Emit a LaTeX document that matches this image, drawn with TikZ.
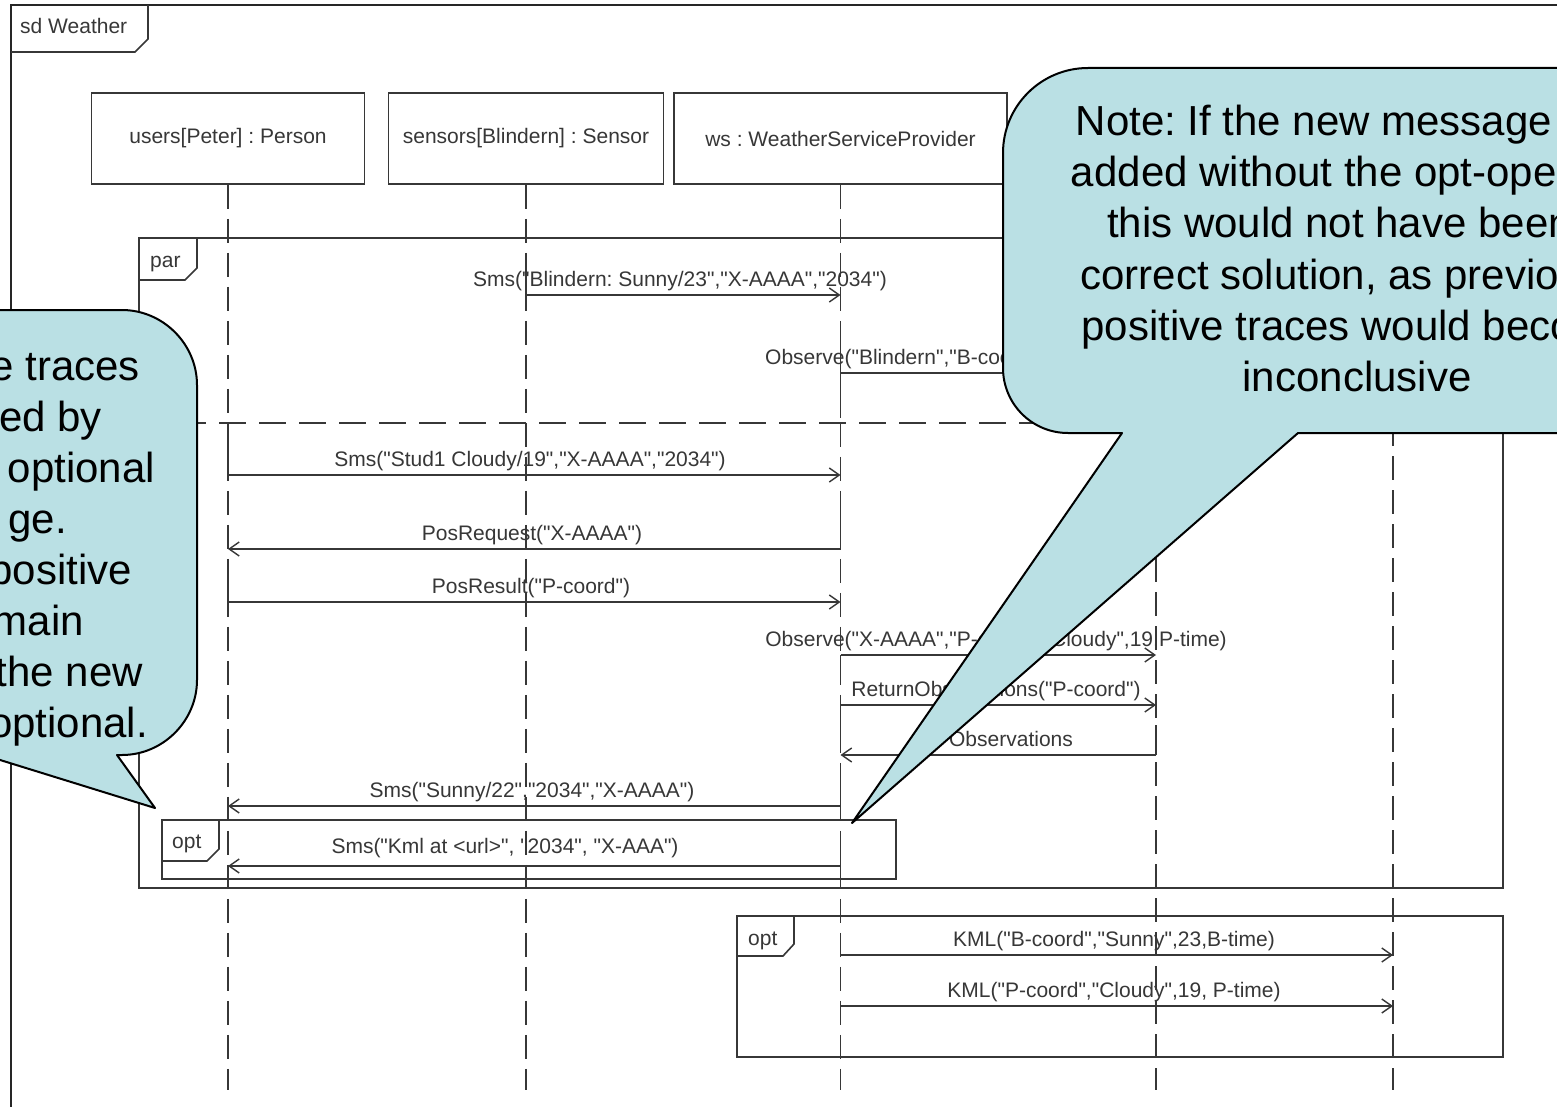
\documentclass[tikz,border=0pt]{standalone}
\usepackage{fontspec}
\setmainfont{Liberation Sans}[Ligatures=TeXOff]
\usetikzlibrary{arrows.meta,calc}
\definecolor{ink}{RGB}{55,55,55}
\definecolor{calloutfill}{RGB}{186,224,228}
\newcommand\diagfont{\fontsize{21}{25}\selectfont}
\newcommand\calloutfont{\fontsize{42}{51}\selectfont}
\frenchspacing

\begin{document}
\begin{tikzpicture}[x=1pt,y=-1pt,
  frame/.style={draw=ink, line width=1.6pt},
  head/.style={draw=ink, line width=1.6pt, minimum height=91pt, inner sep=0pt, font=\diagfont, text=ink},
  lifeline/.style={draw=ink, line width=1.6pt, dash pattern=on 24pt off 10pt},
  active/.style={draw=ink, line width=1.6pt},
  msg/.style={draw=ink, line width=1.6pt, -{Straight Barb[length=10pt,width=14pt,line width=1.4pt]}},
  lbl/.style={font=\diagfont, text=ink, inner sep=0pt, anchor=base},
  divider/.style={draw=ink, line width=1.6pt, dash pattern=on 27pt off 13pt},
  callout/.style={draw=black, line width=2pt, fill=calloutfill, line join=round},
  note/.style={font=\calloutfont, text=black, inner sep=0pt, anchor=base},
]
\useasboundingbox (0,0) rectangle (1557,1107);
\fill[white] (0,0) rectangle (1557,1107);

% outer interaction frame
\draw[line width=2.6pt, draw=black!85] (1600,5) -- (11,5) -- (11,1150);
\draw[frame] (11,52) -- (135,52) -- (148,39) -- (148,5);
\node[lbl, anchor=base west] (sdname) at (20,34) {sd Weather};

% lifeline heads
\node[head, minimum width=273pt] (users) at (228,138.5) {users[Peter] : Person};
\node[head, minimum width=275pt] (sensors) at (526,138.5) {sensors[Blindern] : Sensor};
\node[head, minimum width=333pt] (ws) at (840.5,138.5) {ws : WeatherServiceProvider};
\coordinate (obs) at (1156,184);
\coordinate (kml) at (1393,184);

% lifelines
\draw[lifeline] (users.south) -- (users.south |- 0,1090);
\draw[lifeline] (sensors.south) -- (sensors.south |- 0,1090);
\draw[lifeline] (ws.south) -- (ws.south |- 0,1090);
\draw[lifeline] (obs) -- (obs |- 0,1090);
\draw[lifeline] (kml) -- (kml |- 0,1090);

% solid stretches at the sending points
\draw[active] (sensors.south |- 0,265) -- (sensors.south |- 0,295);
\draw[active] (ws.south |- 0,330) -- (ws.south |- 0,418);
\draw[active] (users.south |- 0,440) -- (users.south |- 0,475);
\draw[active] (ws.south |- 0,512) -- (ws.south |- 0,549);
\draw[active] (users.south |- 0,568) -- (users.south |- 0,602);
\draw[active] (ws.south |- 0,655) -- (ws.south |- 0,685);
\draw[active] (ws.south |- 0,705) -- (ws.south |- 0,735);
\draw[active] (obs |- 0,725) -- (obs |- 0,755);
\draw[active] (ws.south |- 0,772) -- (ws.south |- 0,806);
\draw[active] (ws.south |- 0,832) -- (ws.south |- 0,866);

% par fragment
\draw[frame] (139,238) rectangle (1503,888);
\draw[frame] (139,280) -- (185,280) -- (197,268) -- (197,238);
\node[lbl, anchor=base west] (parname) at (150,267) {par};
\draw[divider] (139,423) -- (1503,423);

% messages of the first operand
\draw[msg] (sensors.south |- 0,295) -- (ws.south |- 0,295);
\node[lbl] (m1) at (680,286) {Sms("Blindern: Sunny/23","X-AAAA","2034")};
\draw[msg] (ws.south |- 0,373) -- (obs |- 0,373);
\node[lbl, anchor=base west] (m2) at (765,364) {Observe("Blindern","B-coord","Sunny",23,B-time)};

% messages of the second operand
\draw[msg] (users.south |- 0,475) -- (ws.south |- 0,475);
\node[lbl] (m3) at (530,466) {Sms("Stud1 Cloudy/19","X-AAAA","2034")};
\draw[msg] (ws.south |- 0,549) -- (users.south |- 0,549);
\node[lbl] (m4) at (532,540) {PosRequest("X-AAAA")};
\draw[msg] (users.south |- 0,602) -- (ws.south |- 0,602);
\node[lbl] (m5) at (531,593) {PosResult("P-coord")};
\draw[msg] (ws.south |- 0,655) -- (obs |- 0,655);
\node[lbl] (m6) at (996,646) {Observe("X-AAAA","P-coord","Cloudy",19,P-time)};
\draw[msg] (ws.south |- 0,705) -- (obs |- 0,705);
\node[lbl] (m7) at (996,696) {ReturnObservations("P-coord")};
\draw[msg] (obs |- 0,755) -- (ws.south |- 0,755);
\node[lbl] (m8) at (1011,746) {Observations};
\draw[msg] (ws.south |- 0,806) -- (users.south |- 0,806);
\node[lbl] (m9) at (532,797) {Sms("Sunny/22","2034","X-AAAA")};

% inner opt fragment
\draw[frame] (162,820) rectangle (896,879);
\draw[frame] (162,861) -- (207,861) -- (219,849) -- (219,820);
\node[lbl, anchor=base west] (opt1name) at (172,848) {opt};
\draw[msg] (ws.south |- 0,866) -- (users.south |- 0,866);
\node[lbl] (m10) at (505,853) {Sms("Kml at <url>", "2034", "X-AAA")};

% lower opt fragment
\draw[frame] (737,916) rectangle (1503,1057);
\draw[frame] (737,956) -- (783,956) -- (794,944) -- (794,916);
\node[lbl, anchor=base west] (opt2name) at (748,945) {opt};
\draw[msg] (ws.south |- 0,955) -- (kml |- 0,955);
\node[lbl] (m11) at (1114,946) {KML("B-coord","Sunny",23,B-time)};
\draw[msg] (ws.south |- 0,1006) -- (kml |- 0,1006);
\node[lbl] (m12) at (1114,997) {KML("P-coord","Cloudy",19, P-time)};

% left callout
\draw[callout] (-400,310) -- (122,310) .. controls (163,310) and (197,344) .. (197,385)
  -- (197,680) .. controls (197,721) and (163,755) .. (122,755)
  -- (117,755) -- (155,808) -- (-16,755) -- (-400,755) -- cycle;
\node[note, anchor=base east] (l1) at (140,380) {e traces};
\node[note, anchor=base east] (l2) at (102,431) {ed by};
\node[note, anchor=base east] (l3) at (155,482) {optional};
\node[note, anchor=base east] (l4) at (67,533) {ge.};
\node[note, anchor=base east] (l5) at (132,584) {positive};
\node[note, anchor=base east] (l6) at (84,635) {main};
\node[note, anchor=base east] (l7) at (143,686) {the new};
\node[note, anchor=base east] (l8) at (148,737) {optional.};

% right callout
\draw[callout] (1700,68) -- (1088,68) .. controls (1041,68) and (1003,106) .. (1003,153)
  -- (1003,368) .. controls (1003,404) and (1032,433) .. (1068,433)
  -- (1122,433) -- (852,823) -- (1298,433) -- (1700,433) -- cycle;
\node[note] (r1) at (1357,136) {Note: If the new message was};
\node[note] (r2) at (1357,187) {added without the opt-operator};
\node[note] (r3) at (1357,238) {this would not have been a};
\node[note] (r4) at (1357,289) {correct solution, as previously};
\node[note] (r5) at (1357,340) {positive traces would become};
\node[note] (r6) at (1357,391) {inconclusive};
\end{tikzpicture}
\end{document}
